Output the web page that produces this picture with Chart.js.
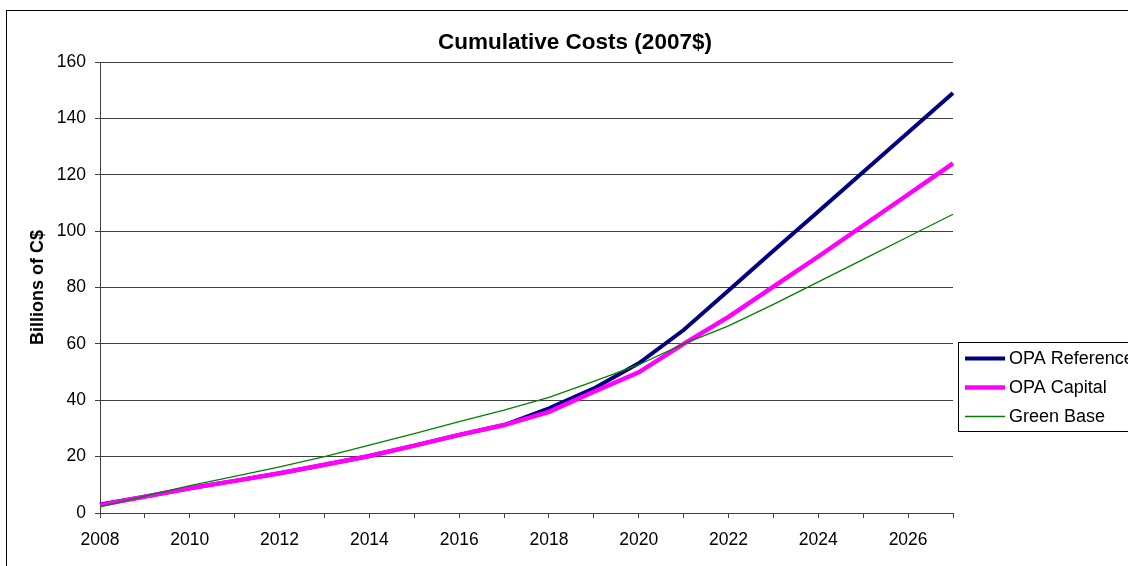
<!DOCTYPE html>
<html>
<head>
<meta charset="utf-8">
<script src="https://cdn.jsdelivr.net/npm/chart.js@4.4.0/dist/chart.umd.min.js"></script>
<style>
  html, body { margin: 0; padding: 0; background: #fff; }
  #wrap { position: relative; width: 1128px; height: 566px; overflow: hidden; }
  #frame { position: absolute; left: 6px; top: 10px; width: 1200px; height: 700px; border: 1px solid #000; box-sizing: border-box; }
  canvas { position: absolute; left: 0; top: 0; }
</style>
</head>
<body>
<div id="wrap">
  <div id="frame"></div>
  <canvas id="c" width="1128" height="566"></canvas>
</div>
<script>
const years = ['2008','2009','2010','2011','2012','2013','2014','2015','2016','2017','2018','2019','2020','2021','2022','2023','2024','2025','2026','2027'];
const opaReference = [3.0, 5.8, 8.8, 11.4, 14.1, 17.1, 20.2, 23.9, 27.7, 31.2, 37.1, 44.2, 53.1, 64.9, 78.9, 93.0, 107.0, 121.0, 135.0, 149.0];
const opaCapital   = [2.8, 5.8, 8.8, 11.4, 14.1, 17.1, 20.2, 23.9, 27.7, 31.2, 35.9, 43.0, 49.9, 60.0, 69.6, 80.3, 91.0, 102.0, 113.0, 124.0];
const greenBase    = [2.2, 6.0, 9.7, 13.0, 16.4, 20.0, 24.1, 28.2, 32.4, 36.5, 41.0, 46.7, 52.6, 60.0, 66.4, 74.0, 82.0, 90.0, 98.0, 106.0];
const yTicks = [0, 20, 40, 60, 80, 100, 120, 140, 160];
const chartTitle = 'Cumulative Costs (2007$)';

const FONT = '"Liberation Sans", Arial, sans-serif';

const decorPlugin = {
  id: 'decor',
  afterDraw(chart) {
    const ctx = chart.ctx;
    ctx.save();
    // title, centred over the whole chart object (plot + legend)
    ctx.fillStyle = '#000';
    ctx.font = 'bold 22.5px ' + FONT;
    ctx.textAlign = 'center';
    ctx.textBaseline = 'middle';
    ctx.fillText(chartTitle, 575, 43);
    // legend box
    const x0 = 958.5, y0 = 342.5, w = 200, h = 89;
    ctx.fillStyle = '#fff';
    ctx.fillRect(x0, y0, w, h);
    ctx.strokeStyle = '#000';
    ctx.lineWidth = 1;
    ctx.strokeRect(x0, y0, w, h);
    const rows = [358.5, 387.5, 416.5];
    chart.data.datasets.forEach((ds, i) => {
      const y = rows[i];
      ctx.beginPath();
      ctx.strokeStyle = ds.borderColor;
      ctx.lineWidth = ds.borderWidth;
      ctx.moveTo(965, y);
      ctx.lineTo(1005, y);
      ctx.stroke();
      ctx.fillStyle = '#000';
      ctx.font = '18px ' + FONT;
      ctx.textBaseline = 'middle';
      ctx.textAlign = 'left';
      ctx.fillText(ds.label, 1009, y + 1);
    });
    ctx.restore();
  }
};

new Chart(document.getElementById('c'), {
  type: 'line',
  data: {
    labels: years,
    datasets: [
      { label: 'OPA Reference', data: opaReference, borderColor: '#000080', backgroundColor: '#000080', borderWidth: 4, order: 3 },
      { label: 'OPA Capital', data: opaCapital, borderColor: '#FF00FF', backgroundColor: '#FF00FF', borderWidth: 4.5, order: 2 },
      { label: 'Green Base', data: greenBase, borderColor: '#008000', backgroundColor: '#008000', borderWidth: 1.3, order: 1 }
    ]
  },
  options: {
    responsive: false,
    animation: false,
    devicePixelRatio: 1,
    elements: { point: { radius: 0 }, line: { tension: 0 } },
    layout: { padding: { left: 27, right: 175, top: 62, bottom: 0 } },
    plugins: {
      legend: { display: false },
      tooltip: { enabled: false },
      title: { display: false }
    },
    scales: {
      x: {
        type: 'category',
        offset: false,
        grid: { display: true, drawOnChartArea: false, drawTicks: true, tickLength: 5, color: '#404040' },
        border: { display: true, color: '#404040', width: 1 },
        ticks: {
          autoSkip: false,
          maxRotation: 0,
          color: '#000',
          padding: 12,
          font: { family: FONT, size: 17.5 },
          callback: function(v, i) { return i % 2 === 0 ? years[i] : ''; }
        },
        afterFit(s) { s.height = 53; }
      },
      y: {
        min: 0,
        max: 160,
        afterBuildTicks(s) { s.ticks = yTicks.map(v => ({ value: v })); },
        grid: { color: '#404040', tickLength: 5, lineWidth: 1 },
        border: { display: true, color: '#404040', width: 1 },
        ticks: { color: '#000', padding: 9, font: { family: FONT, size: 17.5 } },
        title: {
          display: true,
          text: 'Billions of C$',
          color: '#000',
          font: { family: FONT, size: 18, weight: 'bold' },
          padding: 0
        },
        afterFit(s) { s.width = 73; }
      }
    }
  },
  plugins: [decorPlugin]
});
</script>
</body>
</html>
